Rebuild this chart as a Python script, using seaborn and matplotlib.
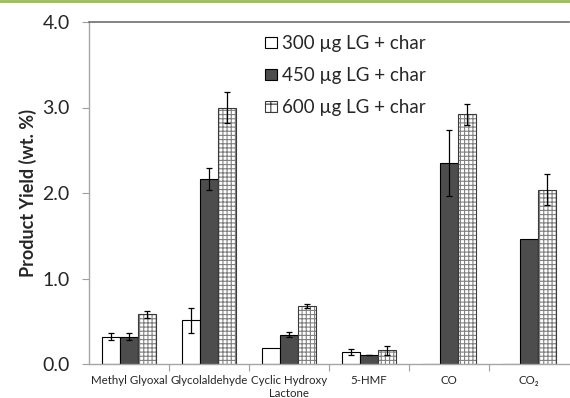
import matplotlib
matplotlib.use("Agg")
import matplotlib.pyplot as plt
import seaborn as sns
import pandas as pd
import numpy as np
from matplotlib.patches import Patch
from matplotlib.lines import Line2D

categories = ["Methyl Glyoxal", "Glycolaldehyde", "Cyclic Hydroxy\nLactone", "5-HMF", "CO", "CO\u2082"]
series = ["300 \u00b5g LG + char", "450 \u00b5g LG + char", "600 \u00b5g LG + char"]
vals_300 = [0.32, 0.51, 0.19, 0.14, 0.0, 0.0]
vals_450 = [0.32, 2.16, 0.34, 0.105, 2.35, 1.46]
vals_600 = [0.58, 3.00, 0.68, 0.16, 2.92, 2.04]
err_300 = [0.04, 0.15, 0.0, 0.03, 0.0, 0.0]
err_450 = [0.04, 0.13, 0.03, 0.005, 0.385, 0.0]
err_600 = [0.04, 0.18, 0.02, 0.05, 0.12, 0.18]
y_ticks = [0.0, 1.0, 2.0, 3.0, 4.0]

sns.set_theme(style="white")
plt.rcParams['font.family'] = ['Lato', 'DejaVu Sans']
plt.rcParams['hatch.linewidth'] = 0.8

rows = []
for s, vals in zip(series, [vals_300, vals_450, vals_600]):
    for c, v in zip(categories, vals):
        rows.append({"cat": c, "series": s, "value": v})
df = pd.DataFrame(rows)

fig = plt.figure(figsize=(5.7, 3.98), dpi=100)
ax = fig.add_axes([89/570, 1-364/398, 480/570, (364-22)/398])

colors = ["white", "#4d4d4d", "white"]
sns.barplot(data=df, x="cat", y="value", hue="series", order=categories, hue_order=series,
            palette=colors, width=0.675, errorbar=None, legend=False, ax=ax,
            edgecolor="black", linewidth=0.8, saturation=1)

errs = [err_300, err_450, err_600]
bar_conts = list(ax.containers)
for i, cont in enumerate(bar_conts):
    for j, p in enumerate(cont.patches):
        if i == 2:
            p.set_hatch("++++")
            p.set_edgecolor("#3a3a3a")
            p._hatch_color = (0.5, 0.5, 0.5, 1.0)
        e = errs[i][j]
        if e > 0:
            xc = p.get_x() + p.get_width() / 2
            ax.errorbar(xc, p.get_height(), yerr=e, fmt="none", ecolor="black",
                        elinewidth=0.9, capsize=2.5, capthick=0.9, zorder=5)

ax.set_ylim(0, 4.0)
ax.set_xlim(-0.5, 5.5)
ax.set_yticks(y_ticks)
ax.set_yticklabels([f"{t:.1f}" for t in y_ticks], fontsize=14)
ax.tick_params(axis="y", direction="out", length=5, width=0.8, color="#a0a0a0", left=True, pad=9)
ax.tick_params(axis="x", which="major", length=0, labelsize=8.3, pad=8)
ax.set_xticks(np.arange(0.5, 5.5, 1.0), minor=True)
ax.tick_params(axis="x", which="minor", direction="out", length=5, width=0.8, color="#a0a0a0", bottom=True)

ax.set_xlabel("")
ax.set_ylabel("Product Yield (wt. %)", fontsize=13, fontweight="bold", labelpad=4)

for side in ["left", "bottom"]:
    ax.spines[side].set_color("#a6a6a6")
    ax.spines[side].set_linewidth(1.0)
ax.spines["top"].set_color("#6e6e6e")
ax.spines["top"].set_linewidth(1.2)
ax.spines["right"].set_visible(False)

handles = [
    Patch(facecolor="white", edgecolor="black", linewidth=0.8),
    Patch(facecolor="#4d4d4d", edgecolor="black", linewidth=0.8),
    Patch(facecolor="white", edgecolor="#3a3a3a", linewidth=0.8, hatch="++"),
]
leg = ax.legend(handles, series, loc="upper left", bbox_to_anchor=(0.34, 1.0), frameon=False,
                fontsize=13.5, handlelength=0.6, handleheight=0.6, handletextpad=0.3,
                labelspacing=0.8, borderaxespad=0.3)

fig.add_artist(Line2D([0, 1], [0.997, 0.997], transform=fig.transFigure, color="#9bbb59", lw=2))

fig.savefig("out.png", dpi=100)
